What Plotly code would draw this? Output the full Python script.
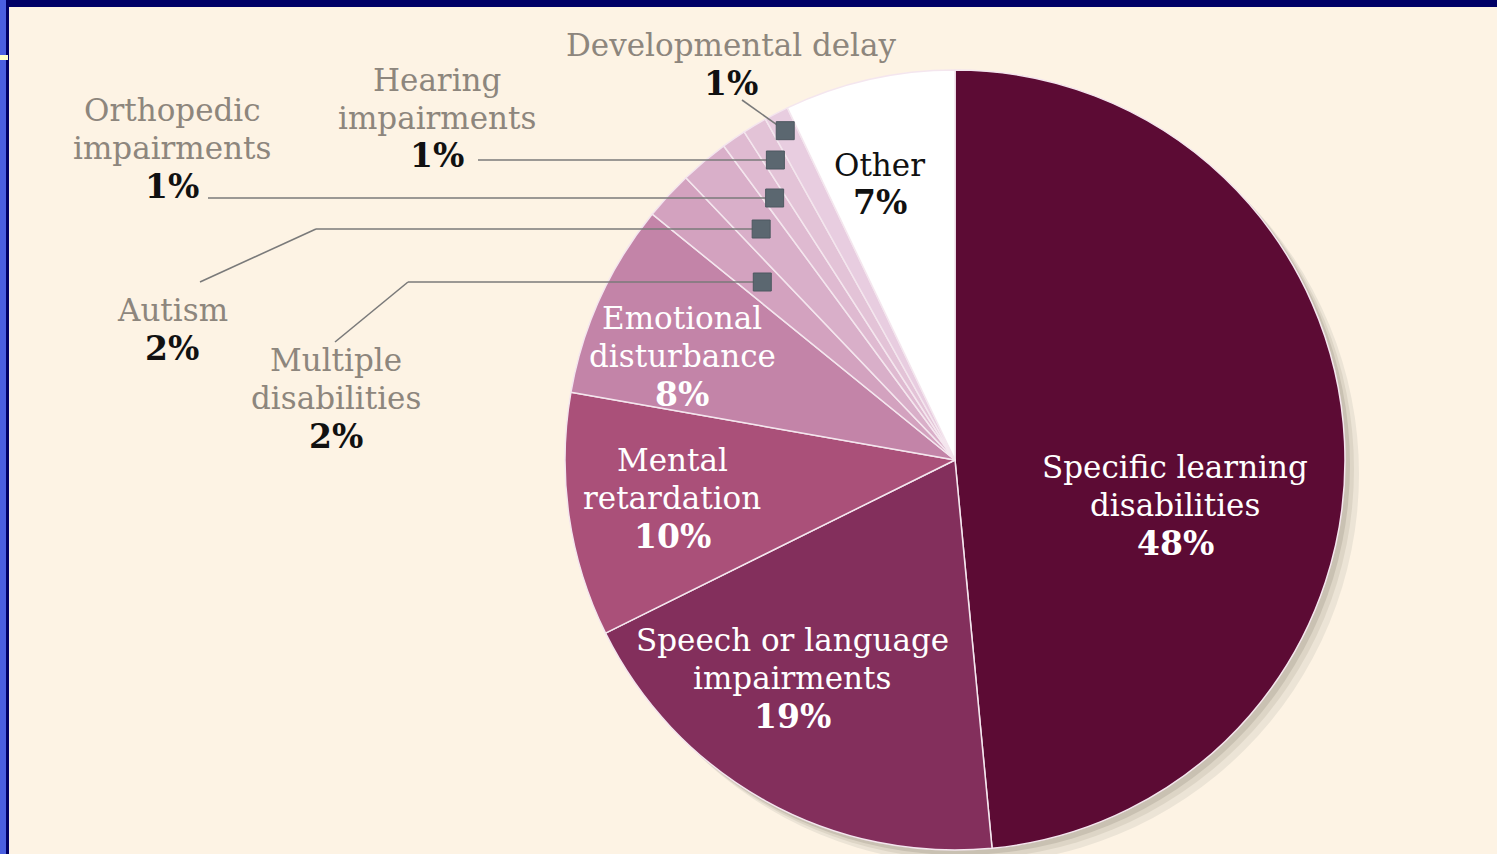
import numpy as np
import plotly.graph_objects as go

# ---------------- data ----------------
categories = ["Specific learning disabilities", "Speech or language impairments",
              "Mental retardation", "Emotional disturbance", "Multiple disabilities",
              "Autism", "Orthopedic impairments", "Hearing impairments",
              "Developmental delay", "Other"]
percent = [48, 19, 10, 8, 2, 2, 1, 1, 1, 7]
name_lines = [["Specific learning", "disabilities"],
              ["Speech or language", "impairments"],
              ["Mental", "retardation"],
              ["Emotional", "disturbance"],
              ["Multiple", "disabilities"],
              ["Autism"],
              ["Orthopedic", "impairments"],
              ["Hearing", "impairments"],
              ["Developmental delay"],
              ["Other"]]

# ---------------- styling ----------------
W, H = 1497, 854
CX, CY, R = 955, 460, 390            # pie centre / radius in pixels
colors = ["#5c0b34", "#832f5c", "#aa5079", "#c384a8", "#d3a2bf",
          "#d9afc9", "#dfbad1", "#e3c3d7", "#e8cde0", "#ffffff"]
FONT = "DejaVu Serif"
FS = 31
LINE = 38
GRAY = "#8d867d"

# label block centres (x, y of first line) in pixels
label_pos = {
    0: (1175, 467), 1: (792, 640), 2: (672, 460), 3: (682, 318),
    4: (336, 360), 5: (172, 310), 6: (172, 110), 7: (437, 80), 8: (731, 45),
    9: (880, 165),
}
inside = {0: "white", 1: "white", 2: "white", 3: "white", 9: "#111111"}

# leader lines: polyline start points (px); last segment is horizontal to the square
leaders = {
    4: [(335, 342), (408, 282)],
    5: [(200, 282), (316, 229)],
    6: [(208, 198)],
    7: [(478, 160)],
}
dev_leader = (742, 100)   # Developmental delay: straight line to square
dev_r = 0.95


def px(x):
    return x / W


def py(y):
    return 1 - y / H


fig = go.Figure()
fig.add_trace(go.Pie(
    labels=categories, values=percent, sort=False, direction="clockwise",
    rotation=0, textinfo="none", hoverinfo="label+percent",
    marker=dict(colors=colors, line=dict(color="#f4e6ee", width=1.5)),
    domain=dict(x=[px(CX - R), px(CX + R)], y=[py(CY + R), py(CY - R)]),
    showlegend=False,
))

total = sum(percent)
cum = np.cumsum([0] + percent[:-1])
mid_deg = [(c + v / 2) / total * 360 for c, v in zip(cum, percent)]

shapes = []
annotations = []

# soft drop shadow under the pie
for off, col in [(14, "#ece4d6"), (9, "#ddd5c6"), (5, "#c9c1b2")]:
    shapes.append(dict(type="circle", xref="paper", yref="paper",
                       x0=px(CX - R + off), x1=px(CX + R + off),
                       y0=py(CY + R + off), y1=py(CY - R + off),
                       fillcolor=col, line_width=0, layer="below"))

# background frame
shapes.append(dict(type="rect", xref="paper", yref="paper", x0=0, x1=1,
                   y0=py(7), y1=1, fillcolor="#000066", line_width=0, layer="above"))
shapes.append(dict(type="rect", xref="paper", yref="paper", x0=0, x1=px(6),
                   y0=0, y1=1, fillcolor="#4a5fe0", line_width=0, layer="above"))
shapes.append(dict(type="rect", xref="paper", yref="paper", x0=px(6), x1=px(9),
                   y0=0, y1=py(7), fillcolor="#000066", line_width=0, layer="above"))
shapes.append(dict(type="rect", xref="paper", yref="paper", x0=0, x1=px(8),
                   y0=py(60), y1=py(55), fillcolor="#ffffc8", line_width=0, layer="above"))


def square(x, y, s=18):
    shapes.append(dict(type="rect", xref="paper", yref="paper",
                       x0=px(x - s / 2), x1=px(x + s / 2),
                       y0=py(y + s / 2), y1=py(y - s / 2),
                       fillcolor="#5b6770", line=dict(color="#4d5860", width=1),
                       layer="above"))


def seg(p, q):
    shapes.append(dict(type="line", xref="paper", yref="paper",
                       x0=px(p[0]), y0=py(p[1]), x1=px(q[0]), y1=py(q[1]),
                       line=dict(color="#7a7a7a", width=1.6), layer="above"))


for i, pts in leaders.items():
    th = np.radians(mid_deg[i])
    yl = pts[-1][1]
    xs = CX + (CY - yl) * np.tan(th)
    poly = pts + [(xs, yl)]
    for a, b in zip(poly[:-1], poly[1:]):
        seg(a, b)
    square(xs, yl)

th = np.radians(mid_deg[8])
dx, dy = CX + dev_r * R * np.sin(th), CY - dev_r * R * np.cos(th)
seg(dev_leader, (dx, dy))
square(dx, dy)

# text
for i, lines in enumerate(name_lines):
    x0, y0 = label_pos[i]
    if i in inside:
        ncol = inside[i]
        pcol = inside[i]
    else:
        ncol = GRAY
        pcol = "#111111"
    for k, t in enumerate(lines):
        annotations.append(dict(x=px(x0), y=py(y0 + k * LINE), xref="paper", yref="paper",
                                text=t, showarrow=False, xanchor="center", yanchor="middle",
                                font=dict(family=FONT, size=FS, color=ncol)))
    annotations.append(dict(x=px(x0), y=py(y0 + len(lines) * LINE), xref="paper", yref="paper",
                            text="<b>%d%%</b>" % percent[i], showarrow=False,
                            xanchor="center", yanchor="middle",
                            font=dict(family=FONT, size=FS + 2, color=pcol)))

fig.update_layout(
    width=W, height=H, margin=dict(l=0, r=0, t=0, b=0),
    paper_bgcolor="#fdf3e4", plot_bgcolor="#fdf3e4",
    shapes=shapes, annotations=annotations, showlegend=False,
)

fig.write_html("out.html")
